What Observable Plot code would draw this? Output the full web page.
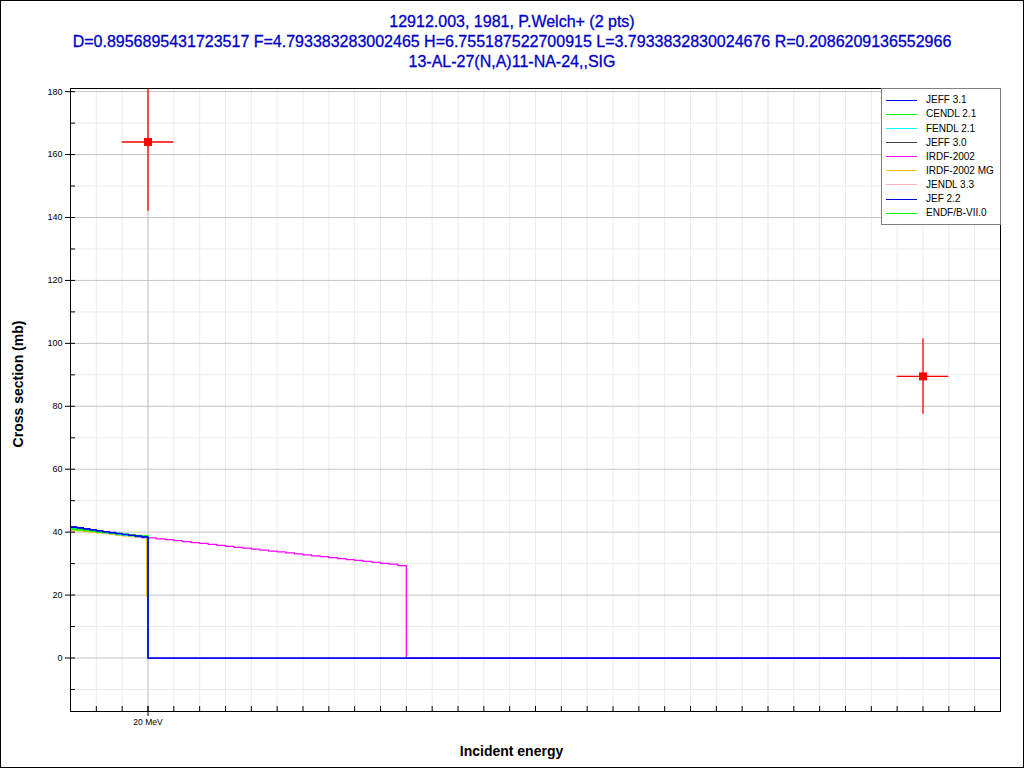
<!DOCTYPE html>
<html>
<head>
<meta charset="utf-8">
<script src="https://cdn.jsdelivr.net/npm/d3@7"></script>
<script src="https://cdn.jsdelivr.net/npm/@observablehq/plot@0.6"></script>
<style>
  body { margin: 0; background: #fff; }
  #wrap { position: relative; width: 1024px; height: 768px; overflow: hidden; font-family: "Liberation Sans", Arial, sans-serif; background: #fff; }
  #wrap svg { position: absolute; left: 0; top: 0; }
  #border { position: absolute; left: 0; top: 0; width: 1024px; height: 768px; box-sizing: border-box; border: 1px solid #000; pointer-events: none; }
  #title { position: absolute; left: 0; top: 12px; width: 1024px; text-align: center; color: #0000c8; font-size: 16px; line-height: 20px; -webkit-text-stroke: 0.3px #0000c8; }
  #legend { position: absolute; left: 881px; top: 88px; width: 120px; height: 137px; box-sizing: border-box; border: 1px solid #808080; background: #fff; }
  .row { position: absolute; left: 0; height: 14px; width: 118px; }
  .sw { position: absolute; left: 4px; top: 6.5px; width: 31px; height: 1px; }
  .lab { position: absolute; left: 44px; top: 0; line-height: 14px; font-size: 10px; color: #000; white-space: nowrap; }
</style>
</head>
<body>
<div id="wrap">
  <div id="title"></div>
  <div id="legend"></div>
  <div id="border"></div>
</div>
<script>
// ---- Text ----
const titleLines = [
  "12912.003, 1981, P.Welch+ (2 pts)",
  "D=0.8956895431723517 F=4.793383283002465 H=6.755187522700915 L=3.7933832830024676 R=0.2086209136552966",
  "13-AL-27(N,A)11-NA-24,,SIG"
];
const yLabel = "Cross section (mb)";
const xLabel = "Incident energy";

// ---- Libraries (legend order) ----
const libraries = ["JEFF 3.1", "CENDL 2.1", "FENDL 2.1", "JEFF 3.0", "IRDF-2002", "IRDF-2002 MG", "JENDL 3.3", "JEF 2.2", "ENDF/B-VII.0"];
const libColors = ["#0000ff", "#00ff00", "#00ffff", "#404040", "#ff00ff", "#ffc000", "#ffb4b4", "#0000e0", "#00ff00"];

// ---- Evaluated data (MeV, mb) ----
const eLow = [17, 17.25, 17.5, 17.75, 18, 18.25, 18.5, 18.75, 19, 19.25, 19.5, 19.75];
const jeff31 = [41.7, 41.4, 41.1, 40.8, 40.5, 40.2, 39.9, 39.6, 39.3, 39.0, 38.8, 38.5];
const jef22 = [41.5, 41.3, 41.0, 40.7, 40.4, 40.1, 39.8, 39.5, 39.2, 39.0, 38.7, 38.4];
const cendl21 = [40.9, 40.7, 40.5, 40.3, 40.1, 39.9, 39.7, 39.5, 39.3, 39.1, 38.9, 38.8];
const endfb7 = [41.0, 40.8, 40.6, 40.4, 40.2, 40.0, 39.8, 39.6, 39.4, 39.2, 39.0, 38.8];
const fendl21 = [41.2, 41.0, 40.7, 40.4, 40.1, 39.8, 39.5, 39.2, 39.0, 38.8, 38.6, 38.4];
const jeff30 = [41.6, 41.3, 41.0, 40.7, 40.4, 40.1, 39.8, 39.5, 39.2, 38.9, 38.7, 38.5];
const jendl33 = [41.1, 40.9, 40.6, 40.3, 40.0, 39.7, 39.4, 39.1, 38.9, 38.7, 38.5, 38.3];
const irdfMG = [40.6, 40.4, 40.2, 40.0, 39.8, 39.5, 39.3, 39.0, 38.8, 38.6, 38.5, 38.4];
const irdfMGEnd = [19.95];
const irdfMGEndVal = [19.5];
const irdfLow = [41.0, 40.7, 40.5, 40.2, 40.0, 39.7, 39.5, 39.2, 39.0, 38.7, 38.5, 38.3];
const eHigh = [20, 20.33, 20.67, 21, 21.33, 21.67, 22, 22.33, 22.67, 23, 23.33, 23.67, 24, 24.33, 24.67, 25,
               25.33, 25.67, 26, 26.33, 26.67, 27, 27.33, 27.67, 28, 28.33, 28.67, 29, 29.33, 29.67, 30, 53];
const irdfHigh = [38.2, 37.9, 37.6, 37.3, 37.0, 36.7, 36.4, 36.1, 35.8, 35.5, 35.2, 34.9, 34.6, 34.3, 34.0, 33.7,
                  33.4, 33.1, 32.8, 32.5, 32.2, 31.9, 31.6, 31.3, 31.0, 30.7, 30.4, 30.1, 29.8, 29.4, 0, 0];
const cutoffE = [20, 53];
const cutoffV = [0, 0];

// ---- Experimental data ----
const expE = [20, 50];
const expDE = [1, 1];
const expSig = [164, 89.5];
const expDSig = [22, 12];

// ---- Ticks ----
const xMinorTicks = d3.range(17, 54, 1);
const xMajorTicks = [20];
const yMajorTicks = [0, 20, 40, 60, 80, 100, 120, 140, 160, 180];
const yMinorTicks = [-10, 10, 30, 50, 70, 90, 110, 130, 150, 170];

// ---- Build tables ----
function rows(lib, es, vs) { return es.map((e, i) => ({lib, e, s: vs[i]})); }
const lines = [].concat(
  rows("JENDL 3.3", eLow.concat([20]), jendl33.concat([0])),
  rows("JEFF 3.0", eLow.concat([20]), jeff30.concat([0])),
  rows("IRDF-2002", eLow.concat(eHigh), irdfLow.concat(irdfHigh)),
  rows("IRDF-2002 MG", eLow.concat(irdfMGEnd), irdfMG.concat(irdfMGEndVal)),
  rows("FENDL 2.1", eLow.concat([20]), fendl21.concat([0])),
  rows("CENDL 2.1", eLow.concat([20]), cendl21.concat([0])),
  rows("ENDF/B-VII.0", eLow.concat([20]), endfb7.concat([0])),
  rows("JEF 2.2", eLow.concat(cutoffE), jef22.concat(cutoffV)),
  rows("JEFF 3.1", eLow.concat(cutoffE), jeff31.concat(cutoffV))
);
const exp = expE.map((e, i) => ({e, de: expDE[i], s: expSig[i], ds: expDSig[i]}));

const font = "'Liberation Sans', Arial, sans-serif";
const plot = Plot.plot({
  width: 1024,
  height: 768,
  marginTop: 88,
  marginLeft: 70,
  marginRight: 24,
  marginBottom: 57,
  style: {fontFamily: font, background: "transparent", color: "#000"},
  x: {domain: [17, 53], label: null},
  y: {domain: [-17, 181], label: null},
  color: {domain: libraries, range: libColors},
  marks: [
    Plot.ruleX(xMinorTicks, {stroke: "#ebebeb"}),
    Plot.ruleY(yMinorTicks, {stroke: "#ebebeb"}),
    Plot.ruleY(yMajorTicks, {stroke: "#c4c4c4"}),
    Plot.ruleX(xMajorTicks, {stroke: "#c4c4c4"}),
    Plot.line(lines, {x: "e", y: "s", z: "lib", stroke: "lib", curve: "step-after", strokeWidth: 1.25, clip: true}),
    Plot.ruleX(exp, {x: "e", y1: d => d.s - d.ds, y2: d => d.s + d.ds, stroke: "#ff0000", strokeWidth: 1.3, clip: true}),
    Plot.ruleY(exp, {y: "s", x1: d => d.e - d.de, x2: d => d.e + d.de, stroke: "#ff0000", strokeWidth: 1.3, clip: true}),
    Plot.dot(exp, {x: "e", y: "s", symbol: "square", fill: "#ff0000", r: 4.5, clip: true}),
    Plot.frame({stroke: "#000"}),
    Plot.axisY(yMajorTicks, {tickSize: 10, dx: 5, tickFormat: () => "", label: null}),
    Plot.axisY(yMinorTicks, {tickSize: 5, dx: 5, tickFormat: () => "", label: null}),
    Plot.axisY(yMajorTicks, {tickSize: 0, tickPadding: 8, fontSize: 9, label: null}),
    Plot.axisX(xMinorTicks, {tickSize: 5, dy: -5, tickFormat: () => "", label: null}),
    Plot.axisX(xMajorTicks, {tickSize: 10, dy: -5, tickFormat: () => "", label: null}),
    Plot.axisX(xMajorTicks, {tickSize: 0, tickPadding: 7, fontSize: 8.5, tickFormat: d => `${d} MeV`, label: null}),
    Plot.text([yLabel], {text: d => d, frameAnchor: "left", textAnchor: "middle", lineAnchor: "middle", rotate: -90, dx: -52, dy: -16, fontWeight: "bold", fontSize: 14, fill: "#000"}),
    Plot.text([xLabel], {text: d => d, frameAnchor: "bottom", textAnchor: "middle", lineAnchor: "middle", dx: -24, dy: 40, fontWeight: "bold", fontSize: 14, fill: "#000"})
  ]
});
const wrap = document.getElementById("wrap");
wrap.insertBefore(plot, wrap.firstChild);

// Title
document.getElementById("title").innerHTML = titleLines.map(t => `<div>${t}</div>`).join("");

// Legend
const legend = document.getElementById("legend");
libraries.forEach((lib, i) => {
  const r = document.createElement("div");
  r.className = "row";
  r.style.top = (4.3 + 14.1 * i) + "px";
  r.innerHTML = `<div class="sw" style="background:${libColors[i]}"></div><div class="lab">${lib}</div>`;
  legend.appendChild(r);
});
</script>
</body>
</html>
